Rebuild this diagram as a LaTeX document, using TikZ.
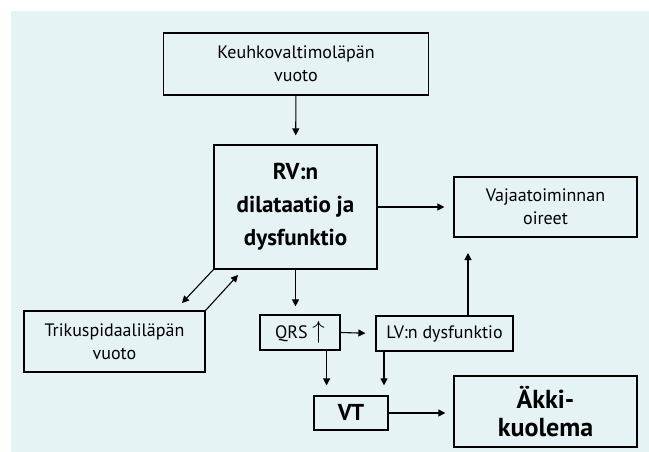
\documentclass[tikz,border=0pt]{standalone}
\usepackage{fontspec}
\setmainfont{PT Sans}
\usetikzlibrary{arrows.meta}
\definecolor{bgcyan}{RGB}{230,243,245}
\begin{document}
\begin{tikzpicture}[x=1pt,y=-1pt,
    box/.style={draw,line width=1.2pt,inner sep=0pt,align=center,font=\fontsize{18}{23}\selectfont},
    bigbox/.style={box,font=\bfseries\fontsize{23}{30}\selectfont},
    arr/.style={-{Triangle[length=7pt,width=7pt]},line width=1.1pt}]
  \useasboundingbox (0,0) rectangle (649,452);
  \fill [bgcyan] (11,11) rectangle (649,452); % background
  \node [box,minimum width=265pt,minimum height=62pt] (keuh) at (296,64) {Keuhkovaltimoläpän\\vuoto}; % top
  \node [bigbox,minimum width=163pt,minimum height=124pt,font=\bfseries\fontsize{23}{33}\selectfont] (rv) at (295.5,207) {RV:n\\dilataatio ja\\dysfunktio}; % centre
  \node [box,minimum width=183pt,minimum height=60pt] (vaja) at (545.5,207) {Vajaatoiminnan\\oireet};
  \node [box,minimum width=181pt,minimum height=61pt] (triku) at (114.5,341.5) {Trikuspidaaliläpän\\vuoto};
  \node [box,minimum width=80pt,minimum height=35pt] (qrs) at (300,332.5) {QRS~{\fontsize{26}{26}\selectfont$\uparrow$}};
  \node [box,minimum width=137pt,minimum height=35pt] (lv) at (444.5,333.5) {LV:n dysfunktio};
  \node [bigbox,minimum width=74pt,minimum height=34pt] (vt) at (351,413) {VT};
  \node [bigbox,minimum width=183pt,minimum height=71pt,font=\bfseries\fontsize{26}{28}\selectfont] (akki) at (545.5,411.5) {Äkki-\\kuolema}; % end
  \coordinate (tipA) at (182,303);
  \coordinate (tipB) at (238,275);
  \coordinate (lvup) at (468,253);
  \draw [arr,shorten >=9pt] (keuh) -- (rv);
  \draw [arr,shorten >=9pt] (rv.east) -- (vaja.west);
  \draw [arr,shorten >=8pt] (rv.south) -- (rv.south |- qrs.north);
  \draw [arr] (rv.south west) -- (tipA); % to tricuspid
  \draw [arr] (triku.north east) -- (tipB); % back to RV
  \draw [arr,shorten >=10pt] (qrs.east) -- (lv.west);
  \draw [arr,shorten >=10pt] (326.6,0 |- qrs.south) -- (326.6,0 |- vt.north);
  \draw [arr,shorten >=10pt] (384,0 |- lv.south) -- (384,0 |- vt.north);
  \draw [arr] (lv.north -| lvup) -- (lvup);
  \draw [arr,shorten >=8pt] (vt.east) -- (vt.east -| akki.west);
\end{tikzpicture}
\end{document}
